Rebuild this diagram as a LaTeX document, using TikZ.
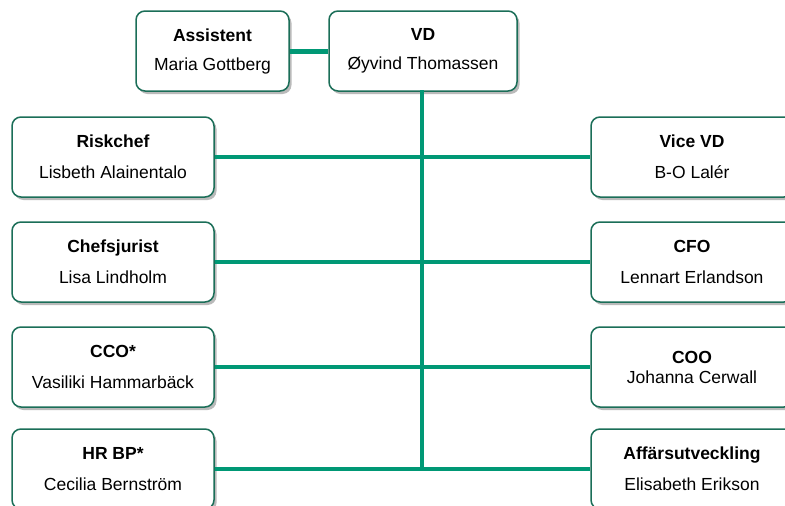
\documentclass[tikz,border=0pt]{standalone}
\usepackage{fontspec}
\setmainfont{Liberation Sans}
\usepackage{tikz}
\usetikzlibrary{shadows}
\definecolor{linegreen}{HTML}{009875}
\definecolor{edgegreen}{HTML}{1B6E58}
\tikzset{
  orgbox/.style={draw=edgegreen, line width=1.5pt, rounded corners=9pt, fill=white,
    minimum height=80pt, align=center, inner sep=2pt,
    font=\fontsize{17.5}{21}\selectfont,
    drop shadow={shadow xshift=2.5pt, shadow yshift=-3pt, opacity=.6, fill=black!45}},
  sidebox/.style={orgbox, minimum width=202pt},
  orgline/.style={draw=linegreen, line width=3.5pt}
}
\begin{document}
\begin{tikzpicture}[x=1pt, y=-1pt]
\useasboundingbox (0,0) rectangle (785,506);
\node[orgbox, minimum width=153pt] (asst) at (212.5,51) {\textbf{Assistent}\\[8pt]Maria Gottberg};
\node[orgbox, minimum width=188pt] (vd) at (423,51) {\textbf{VD}\\[8pt]Øyvind Thomassen};
\coordinate (bottom) at (422,468);
\draw[orgline] (422,90) -- (bottom);
\node[sidebox] (riskchef) at (113,157) {\textbf{Riskchef}\\[10pt]Lisbeth Alainentalo};
\node[sidebox] (jurist) at (113,262) {\textbf{Chefsjurist}\\[10pt]Lisa Lindholm};
\node[sidebox] (cco) at (113,367) {\textbf{CCO*}\\[10pt]Vasiliki Hammarbäck};
\node[sidebox] (hr) at (113,469) {\textbf{HR BP*}\\[10pt]Cecilia Bernström};
\node[sidebox] (vicevd) at (692,157) {\textbf{Vice VD}\\[10pt]B-O Lalér};
\node[sidebox] (cfo) at (692,262) {\textbf{CFO}\\[10pt]Lennart Erlandson};
\node[sidebox] (coo) at (692,367) {\textbf{COO}\\[-1pt]Johanna Cerwall};
\node[sidebox] (affutv) at (692,469) {\textbf{Affärsutveckling}\\[10pt]Elisabeth Erikson};
\draw[orgline, line width=5pt] (asst) -- (vd);
\foreach \l/\r in {riskchef/vicevd, jurist/cfo, cco/coo, hr/affutv}
  \draw[orgline] (\l) -- (\r);
\end{tikzpicture}
\end{document}
